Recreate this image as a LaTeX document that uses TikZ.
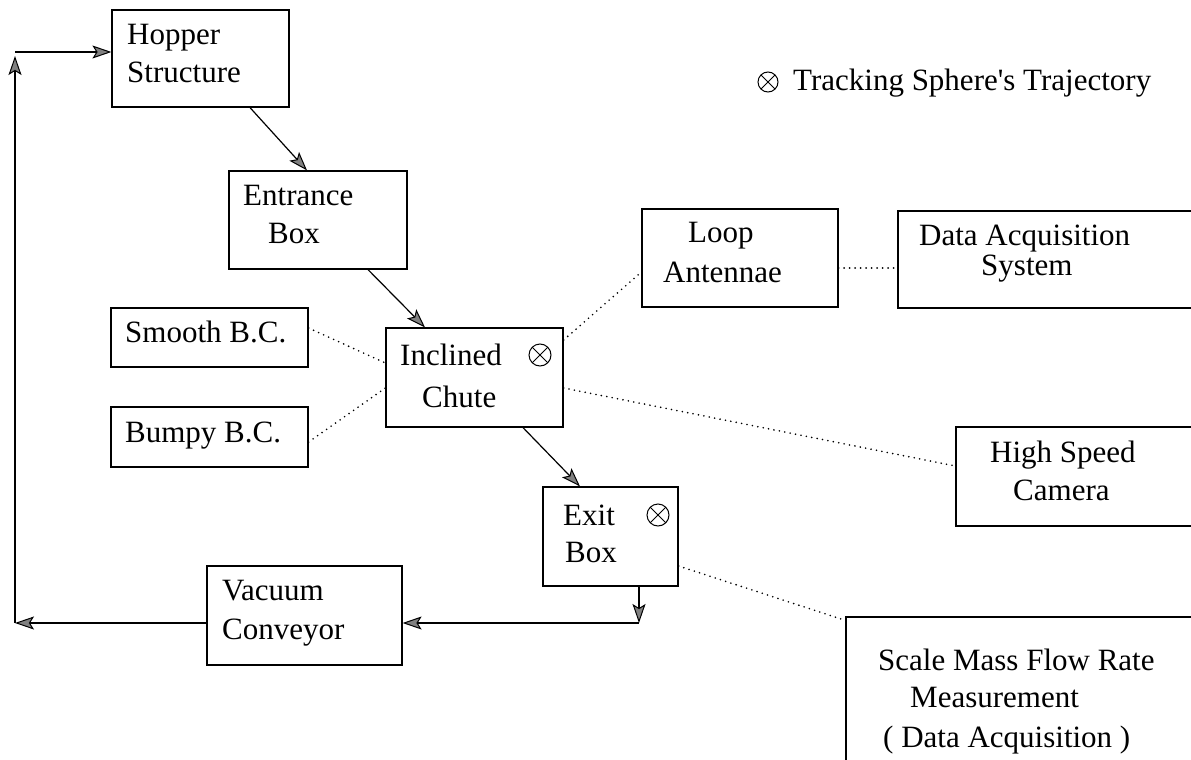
\documentclass[tikz,border=0pt]{standalone}
\usepackage{fontspec}
\setmainfont{Liberation Serif}
\usetikzlibrary{arrows.meta}
\begin{document}
\begin{tikzpicture}[x=1pt,y=-1pt,
  box/.style={draw, line width=1.2pt, inner sep=0pt},
  txt/.style={anchor=base west, inner sep=0pt, font=\fontsize{31}{37}\selectfont},
  flow/.style={line width=1.2pt, -{Stealth[length=19pt,width=13pt,inset=4pt,fill=black!50,line width=1pt]}},
  link/.style={line width=1.8pt, line cap=round, dash pattern=on 0pt off 5.5pt},
  trackmark/.style={circle, draw, line width=1pt, minimum size=#1, inner sep=0pt,
    path picture={\draw[line width=1pt]
      (path picture bounding box.north west) -- (path picture bounding box.south east)
      (path picture bounding box.north east) -- (path picture bounding box.south west);}},
  trackmark/.default=22pt]
\useasboundingbox (0,0) rectangle (1191,760);
\clip (0,0) rectangle (1191,760);

% boxes
\node[box, minimum width=177pt, minimum height=97pt] (hopper)   at (200.5,58.5) {};
\node[box, minimum width=178pt, minimum height=98pt] (entrance) at (318,220) {};
\node[box, minimum width=197pt, minimum height=59pt] (smooth)   at (209.5,337.5) {};
\node[box, minimum width=197pt, minimum height=60pt] (bumpy)    at (209.5,437) {};
\node[box, minimum width=177pt, minimum height=99pt] (chute)    at (474.5,377.5) {};
\node[box, minimum width=196pt, minimum height=98pt] (loop)     at (740,258) {};
\node[box, minimum width=332pt, minimum height=97pt] (das)      at (1064,259.5) {};
\node[box, minimum width=274pt, minimum height=99pt] (camera)   at (1093,476.5) {};
\node[box, minimum width=135pt, minimum height=99pt] (exitbox)  at (610.5,536.5) {};
\node[box, minimum width=195pt, minimum height=99pt] (vacuum)   at (304.5,615.5) {};
\node[box, minimum width=384pt, minimum height=183pt] (scale)   at (1038,708.5) {};

% box texts
\node[txt] (hopper-a)   at (127,45)  {Hopper};
\node[txt] (hopper-b)   at (127,82)  {Structure};
\node[txt] (entrance-a) at (243,205) {Entrance};
\node[txt] (entrance-b) at (268,243) {Box};
\node[txt] (smooth-a)   at (125,342) {Smooth B.C.};
\node[txt] (bumpy-a)    at (125,442) {Bumpy B.C.};
\node[txt] (chute-a)    at (400,365) {Inclined};
\node[txt] (chute-b)    at (422,407) {Chute};
\node[txt] (loop-a)     at (688,242) {Loop};
\node[txt] (loop-b)     at (663,282) {Antennae};
\node[txt] (das-a)      at (919,245) {Data Acquisition};
\node[txt] (das-b)      at (981,275) {System};
\node[txt] (camera-a)   at (990,462) {High Speed};
\node[txt] (camera-b)   at (1013,500) {Camera};
\node[txt] (exit-a)     at (563,525) {Exit};
\node[txt] (exit-b)     at (565,562) {Box};
\node[txt] (vacuum-a)   at (222,600) {Vacuum};
\node[txt] (vacuum-b)   at (222,639) {Conveyor};
\node[txt] (scale-a)    at (878,670) {Scale Mass Flow Rate};
\node[txt] (scale-b)    at (910,707) {Measurement};
\node[txt] (scale-c)    at (883,747) {( Data Acquisition )};

% tracking marks and legend
\node[trackmark] (chute-mark) at (540,355) {};
\node[trackmark] (exit-mark)  at (658,515) {};
\node[trackmark=20pt] (legend-mark) at (768,82) {};
\node[txt] (legend) at (793,90) {Tracking Sphere\textquotesingle s Trajectory};

% return loop corners
\coordinate (c-exit) at (639,623);
\coordinate (c-low)  at (15,623);
\coordinate (c-high) at (15,52);

% material flow
\draw[flow] ([xshift=49.5pt]hopper.south) -- ([xshift=-11pt]entrance.north);
\draw[flow] ([xshift=50pt]entrance.south) -- ([xshift=-49.5pt]chute.north);
\draw[flow] ([xshift=48.5pt]chute.south) -- ([xshift=-30.5pt]exitbox.north);
\draw[flow] ([xshift=28.5pt]exitbox.south) -- (c-exit);
\draw[flow] (c-exit) -- (c-exit -| vacuum.east);
\draw[flow] (c-low -| vacuum.west) -- (c-low);
\draw[flow, shorten >=4pt] (c-low) -- (c-high);
\draw[flow] (c-high) -- (c-high -| hopper.west);

% instrumentation and boundary conditions
\draw[link] ([yshift=9.5pt]smooth.east) -- ([yshift=14.5pt]chute.west);
\draw[link] ([yshift=-5pt]bumpy.east) -- ([yshift=-10.5pt]chute.west);
\draw[link] ([yshift=37.5pt]chute.east) -- ([yshift=-14pt]loop.west);
\draw[link] ([yshift=-10pt]loop.east) -- ([yshift=-10pt]loop.east -| das.west);
\draw[link] ([yshift=-10.5pt]chute.east) -- ([yshift=10.5pt]camera.west);
\draw[link] ([yshift=-29.5pt]exitbox.east) -- ([yshift=-4pt]scale.north west);
\end{tikzpicture}
\end{document}
